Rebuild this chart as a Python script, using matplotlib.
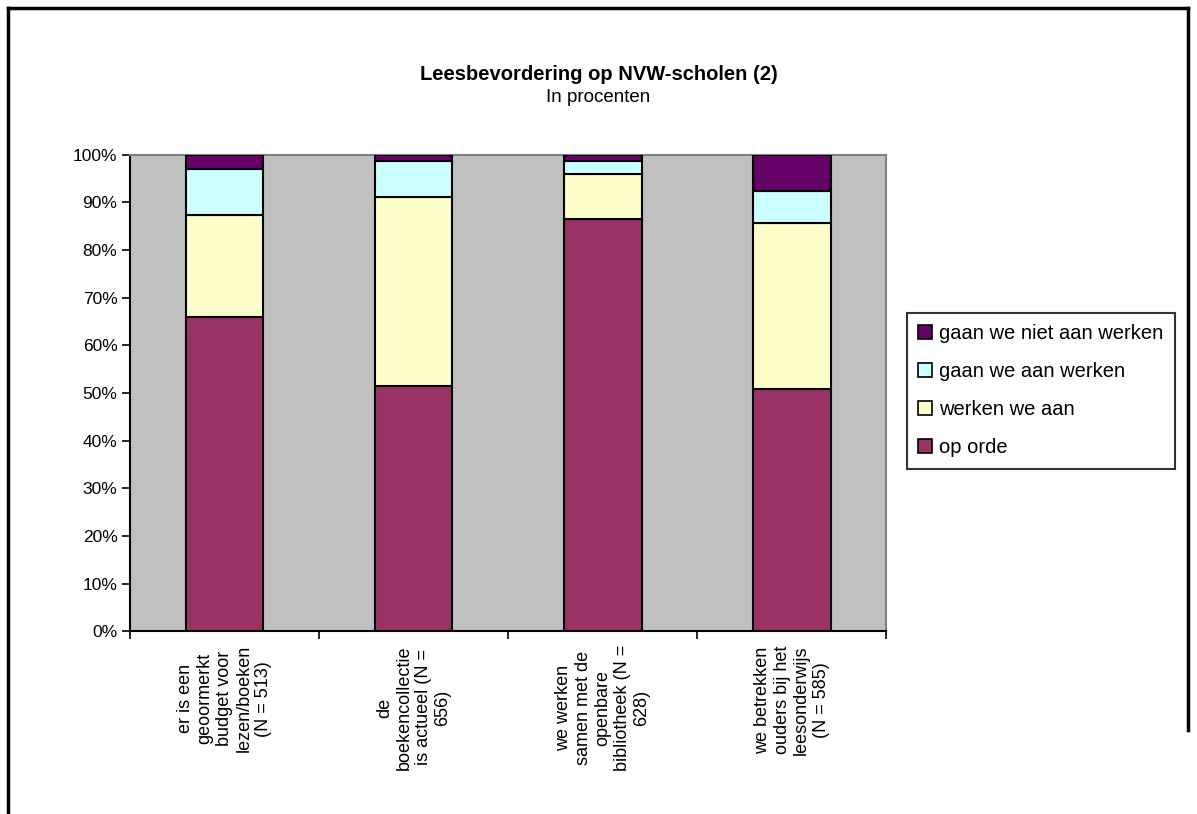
import numpy as np
import matplotlib
matplotlib.use('Agg')
import matplotlib.pyplot as plt
from matplotlib.patches import Patch

plt.rcParams['font.family'] = ['Liberation Sans', 'DejaVu Sans']

# data (percentages)
categories = ['er is een\ngeoormerkt\nbudget voor\nlezen/boeken\n(N = 513)',
              'de\nboekencollectie\nis actueel (N =\n656)',
              'we werken\nsamen met de\nopenbare\nbibliotheek (N =\n628)',
              'we betrekken\nouders bij het\nleesonderwijs\n(N = 585)']
op_orde        = [66.0, 51.5, 86.5, 50.8]
werken_we_aan  = [21.4, 39.7, 9.4, 34.9]
gaan_we_aan    = [9.5, 7.5, 2.8, 6.7]
gaan_niet      = [3.1, 1.3, 1.3, 7.6]

series = [('op orde', op_orde, '#993366'),
          ('werken we aan', werken_we_aan, '#FFFFCC'),
          ('gaan we aan werken', gaan_we_aan, '#CCFFFF'),
          ('gaan we niet aan werken', gaan_niet, '#660066')]

fig = plt.figure(figsize=(11.97, 8.14), dpi=100)
ax = fig.add_axes([0.1086, 0.2244, 0.632, 0.5856])
ax.set_facecolor('#C0C0C0')

x = np.arange(len(categories))
bottom = np.zeros(len(categories))
handles = []
for name, vals, col in series:
    ax.bar(x, vals, 0.41, bottom=bottom, color=col, edgecolor='black',
           linewidth=1.5, zorder=3)
    bottom += np.array(vals)
    handles.append(Patch(facecolor=col, edgecolor='black', linewidth=1.2, label=name))

ax.set_xlim(-0.5, len(categories) - 0.5)
ax.set_ylim(0, 100)
ax.set_yticks(np.arange(0, 101, 10))
ax.set_yticklabels(['%d%%' % v for v in range(0, 101, 10)], fontsize=12.5)

ax.set_xticks(np.arange(-0.5, len(categories), 1.0))
ax.set_xticklabels([])
ax.set_xticks(x, minor=True)
ax.set_xticklabels(categories, minor=True, rotation=90, fontsize=13,
                   va='top', ha='center', multialignment='center', linespacing=1.2)
ax.tick_params(axis='x', which='minor', length=0, pad=10)
ax.tick_params(axis='x', which='major', length=6, width=1.2, direction='out')
ax.tick_params(axis='y', length=6, width=1.2, direction='out', pad=3)

for s in ['top', 'right']:
    ax.spines[s].set_color('#808080')
    ax.spines[s].set_linewidth(1.5)
for s in ['left', 'bottom']:
    ax.spines[s].set_color('black')
    ax.spines[s].set_linewidth(1.5)

fig.text(0.5, 1 - 74/814, 'Leesbevordering op NVW-scholen (2)', ha='center', va='center',
         fontsize=14.5, fontweight='bold')
fig.text(0.5, 1 - 98/814, 'In procenten', ha='center', va='center', fontsize=13.5)

leg = fig.legend(handles[::-1], [h.get_label() for h in handles[::-1]],
                 loc='upper left', bbox_to_anchor=(907/1197, 1 - 313/814),
                 fontsize=14.5, frameon=True, fancybox=False, edgecolor='black',
                 handlelength=0.7, handleheight=0.7, handletextpad=0.35,
                 labelspacing=0.95, borderpad=0.55, borderaxespad=0)
leg.get_frame().set_linewidth(1.5)

# outer chart border
fig.add_artist(plt.Line2D([8/1197, 8/1197], [0, 1 - 8/814], color='black', lw=2.5,
                          transform=fig.transFigure))
fig.add_artist(plt.Line2D([8/1197, 1188/1197], [1 - 8/814, 1 - 8/814], color='black', lw=2.5,
                          transform=fig.transFigure))
fig.add_artist(plt.Line2D([1188/1197, 1188/1197], [1 - 8/814, 1 - 730/814], color='black', lw=2.5,
                          transform=fig.transFigure))

plt.savefig('out.png', dpi=100)
